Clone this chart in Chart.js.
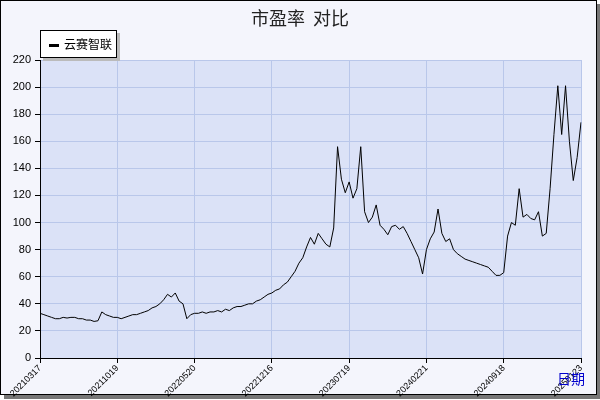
<!DOCTYPE html>
<html><head><meta charset="utf-8">
<script src="https://cdn.jsdelivr.net/npm/chart.js@4"></script>
<style>
html,body{margin:0;padding:0;background:#fff;}
#wrap{position:absolute;left:0;top:0;width:595px;height:393px;background:#f4f5fc;border:1px solid #000;box-shadow:4px 4px 0 #777;}
#c{position:absolute;left:0;top:0;}
#title{position:absolute;left:0;width:600px;top:4px;text-align:center;font:18px "Noto Sans CJK SC";color:#222;}
#legend{position:absolute;left:40px;top:30px;width:75px;height:26px;background:#fff;border:1px solid #000;box-shadow:3px 3px 0 #bbb;font:12px "Noto Sans CJK SC";line-height:26px;white-space:nowrap;overflow:hidden;}
#legend span{display:inline-block;width:10px;height:3px;background:#000;vertical-align:middle;margin:0 5px 0 8px;}
#xl{position:absolute;left:557px;top:368px;font:14px "Noto Sans CJK SC";color:#00c;}
</style></head><body>
<div id="wrap"></div>
<canvas id="c" width="600" height="400"></canvas>
<div id="title">市盈率&nbsp;&nbsp;对比</div>
<div id="legend"><span></span>云赛智联</div>
<div id="xl">日期</div>
<script>
const tickLabels=["20210317","20211019","20220520","20221216","20230719","20240221","20240918","20250123"];
const seriesName="云赛智联";
const peValues=[33,32,31,30,29,29,30,29.5,30,30,29,29,28,28,27,27.5,34,32,31,30,
30,29,30,31,32,32,33,34,35,37,38,40,43,47,45,48,42,40,29,32,
33,33,34,33,34,34,35,34,36,35,37,38,38,39,40,40,42,43,45,47,
48,50,51,54,56,60,64,70,74,82,89,84,92,88,84,82,96,156,132,122,
130,118,125,156,108,100,104,113,98,95,91,97,98,95,97,92,86,80,74,62,
80,88,93,110,92,86,88,80,77,75,73,72,71,70,69,68,67,64,61,61,
63,90,100,98,125,104,106,103,102,108,90,92,125,165,201,165,201,160,131,148,
174];
const yTicks=[0,20,40,60,80,100,120,140,160,180,200,220];
const labels=peValues.map((v,i)=> i%20===0 ? tickLabels[i/20] : "");
new Chart(document.getElementById('c'),{
 type:'line',
 data:{labels:labels,datasets:[{label:seriesName,data:peValues,borderColor:'#000',borderWidth:1,pointRadius:0,tension:0}]},
 options:{responsive:false,animation:false,
  layout:{padding:{top:60,right:19,left:0,bottom:0}},
  plugins:{legend:{display:false},tooltip:{enabled:false}},
  scales:{
   x:{grid:{color:'#b9c7ea',tickColor:'#000',tickLength:5,offset:false},border:{color:'#000'},
      afterBuildTicks:s=>{s.ticks=s.ticks.filter(t=>labels[t.value]);},
      ticks:{autoSkip:false,maxRotation:45,minRotation:45,color:'#000',font:{size:9},padding:0},
      afterFit:s=>{s.height=42;}},
   y:{min:0,max:220,grid:{color:'#b9c7ea',tickColor:'#000',tickLength:5},border:{color:'#000'},
      afterBuildTicks:s=>{s.ticks=yTicks.map(v=>({value:v}));},
      ticks:{color:'#000',font:{size:11},padding:4},
      afterFit:s=>{s.width=40;}}
  }},
 plugins:[{id:'bg',beforeDraw(ch){const a=ch.chartArea,c=ch.ctx;c.save();c.fillStyle='#dbe2f7';c.fillRect(a.left,a.top,a.right-a.left,a.bottom-a.top);c.restore();}}]
});
</script></body></html>
